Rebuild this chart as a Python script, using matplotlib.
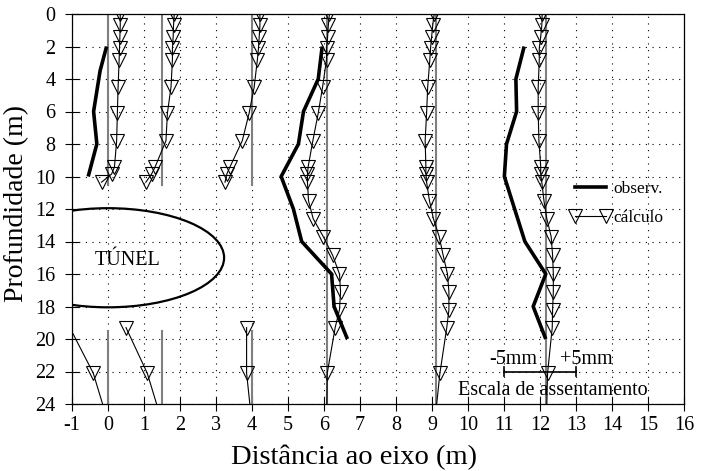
import matplotlib
matplotlib.use("Agg")
import matplotlib.pyplot as plt
from matplotlib.patches import Ellipse
from matplotlib.lines import Line2D
import numpy as np

plt.rcParams["font.family"] = ["Liberation Serif", "DejaVu Serif"]

# Settlement scale: 5 mm of settlement is drawn as 1 m on the distance axis
MM_PER_M = 5.0

# Depths (m) of the computed profiles
depths_all = [0, 0.7, 1.4, 2.1, 2.8, 4.5, 6.1, 7.8, 9.4, 9.85, 10.35,
              11.5, 12.6, 13.7, 14.85, 16.0, 17.1, 18.2, 19.3, 22.1, 24]
depths_upper = depths_all[:11]
depths_lower = [19.3, 22.1, 24]

# Profile reference verticals (distance to the tunnel axis, m)
base_0, base_15, base_4 = 0.0, 1.5, 4.0
base_6, base_9, base_12 = 6.07, 9.1, 12.16

# Computed settlements (mm) – verticals crossing the tunnel are split in two
calc_0_upper = [1.7, 1.7, 1.65, 1.6, 1.55, 1.4, 1.3, 1.2, 0.9, 0.5, -0.9]
calc_0_lower = [-5.3, -2.05, -0.75]
calc_15_upper = [1.7, 1.6, 1.55, 1.45, 1.45, 1.25, 0.75, 0.55, -0.95, -1.45, -2.25]
calc_15_lower = [-5.0, -2.05, -0.75]
calc_4_upper = [1.1, 1.1, 1.0, 0.9, 0.75, 0.3, -0.4, -1.35, -3.05, -3.5, -3.75]
calc_4_lower = [-0.75, -0.75, -0.3]
calc_6 = [0.4, 0.25, 0.15, 0.0, 0.0, -0.55, -1.15, -1.9, -2.55, -2.65, -2.65,
          -2.5, -1.85, -0.45, 0.85, 1.8, 1.95, 1.8, 1.2, 0.1, 0.05]
calc_9 = [-0.2, -0.4, -0.55, -0.7, -0.8, -1.1, -1.25, -1.45, -1.35, -1.35, -1.25,
          -0.85, -0.3, 0.5, 1.05, 1.65, 1.85, 1.85, 1.55, 0.6, 0.15]
calc_12 = [-0.5, -0.55, -0.7, -0.9, -0.9, -1.05, -1.05, -0.95, -0.7, -0.7, -0.55,
           -0.25, 0.15, 0.75, 0.95, 1.05, 1.05, 0.95, 0.9, 0.25, 0.15]

# Observed settlements (mm)
obs_0_depth = [2, 3.5, 6, 8, 10]
obs_0 = [-0.2, -1.1, -2.0, -1.55, -2.75]
obs_6_depth = [2, 4, 6, 8, 10, 12, 14, 16, 18, 20]
obs_6 = [-0.6, -1.15, -3.2, -3.9, -6.3, -4.6, -3.45, 0.7, 1.05, 2.9]
obs_12_depth = [2, 4, 6, 8, 10, 14, 16, 18, 20]
obs_12 = [-3.0, -4.15, -4.05, -5.45, -5.75, -2.9, 0.0, -1.75, 0.0]

# Tunnel section
tunnel_center = (0.0, 15.0)
tunnel_width, tunnel_height = 6.45, 6.1

# Depth interval where the short verticals are interrupted by the tunnel
gap_top, gap_bottom = 10.5, 19.5

x_ticks = list(range(-1, 17))
y_ticks = list(range(0, 25, 2))

fig = plt.figure(figsize=(7.01, 4.71), dpi=100)
ax = fig.add_axes([72 / 701, 1 - 404 / 471, 612 / 701, 390 / 471])

ax.set_xlim(-1, 16)
ax.set_ylim(24, 0)
ax.set_xticks(x_ticks)
ax.set_yticks(y_ticks)
ax.set_xticklabels([str(t) for t in x_ticks])
ax.set_yticklabels([str(t) for t in y_ticks])
ax.grid(True, color="black", linestyle=(0, (1, 5)), linewidth=0.8)
ax.set_axisbelow(True)
ax.tick_params(direction="inout", length=10, width=0.8, labelsize=14.5)
ax.tick_params(axis="x", pad=4)
ax.tick_params(axis="y", pad=7)
for s in ax.spines.values():
    s.set_linewidth(0.9)

grey = "#7f7f7f"
# Reference verticals
for b in (base_0, base_15, base_4):
    ax.plot([b, b], [0, gap_top], color=grey, lw=1.5, zorder=2)
    ax.plot([b, b], [gap_bottom, 24], color=grey, lw=1.5, zorder=2)
for b in (base_6, base_9, base_12):
    ax.plot([b, b], [0, 24], color=grey, lw=1.5, zorder=2)


def draw_calc(base, mm, d):
    x = base + np.asarray(mm) / MM_PER_M
    d = np.asarray(d, dtype=float)
    ax.plot(x, d, color="black", lw=0.8, zorder=3)
    vis = (d < 24) & (x >= -1)
    ax.plot(x[vis], d[vis], linestyle="none", marker="v", ms=9.5,
            mfc="none", mec="black", mew=0.8, zorder=4)


def draw_obs(base, mm, d):
    x = base + np.asarray(mm) / MM_PER_M
    ax.plot(x, d, color="black", lw=2.6, solid_capstyle="butt", zorder=5)


draw_calc(base_0, calc_0_upper, depths_upper)
draw_calc(base_0, calc_0_lower, depths_lower)
draw_calc(base_15, calc_15_upper, depths_upper)
draw_calc(base_15, calc_15_lower, depths_lower)
draw_calc(base_4, calc_4_upper, depths_upper)
draw_calc(base_4, calc_4_lower, depths_lower)
draw_calc(base_6, calc_6, depths_all)
draw_calc(base_9, calc_9, depths_all)
draw_calc(base_12, calc_12, depths_all)

draw_obs(base_0, obs_0, obs_0_depth)
draw_obs(base_6, obs_6, obs_6_depth)
draw_obs(base_12, obs_12, obs_12_depth)

# Tunnel
ax.add_patch(Ellipse(tunnel_center, tunnel_width, tunnel_height, fill=False,
                     ec="black", lw=1.6, zorder=5))
ax.text(0.55, 15.45, "TÚNEL", fontsize=14.5, ha="center", va="baseline", zorder=6)

# Settlement scale bar
bar_c, bar_d = 12.0, 22.0
half = 5.0 / MM_PER_M
ax.plot([bar_c - half, bar_c + half], [bar_d, bar_d], color="black", lw=1.2, zorder=6)
for xe in (bar_c - half, bar_c + half):
    ax.plot([xe, xe], [bar_d - 0.3, bar_d + 0.3], color="black", lw=1.2, zorder=6)
ax.text(bar_c - half + 0.25, 21.55, "-5mm", fontsize=14.5, ha="center", va="baseline", zorder=6)
ax.text(bar_c + half + 0.28, 21.55, "+5mm", fontsize=14.5, ha="center", va="baseline", zorder=6)
ax.text(12.35, 23.45, "Escala de assentamento", fontsize=14.5, ha="center",
        va="baseline", zorder=6)

ax.set_xlabel("Distância ao eixo (m)", fontsize=20.5)
ax.xaxis.set_label_coords((354 - 72) / 612, -(464 - 404) / 390)
ax.xaxis.label.set_va("baseline")
ax.set_ylabel("Profundidade (m)", fontsize=20)
ax.yaxis.label.set_va("center")
ax.yaxis.set_label_coords(-(72 - 17) / 612, (404 - 203) / 390)

handles = [
    Line2D([], [], color="black", lw=2.6),
    Line2D([], [], color="black", lw=0.8, marker="v", ms=9.5, mfc="none",
           mec="black", mew=0.8),
]
ax.legend(handles, ["observ.", "cálculo"], loc="upper left",
          bbox_to_anchor=(570 / 701, 1 - 181 / 471), bbox_transform=fig.transFigure,
          frameon=False, fontsize=12.5, numpoints=2, handlelength=2.4,
          handletextpad=0.1, borderpad=0, borderaxespad=0, labelspacing=0.75)

fig.savefig("out.png", dpi=100)
